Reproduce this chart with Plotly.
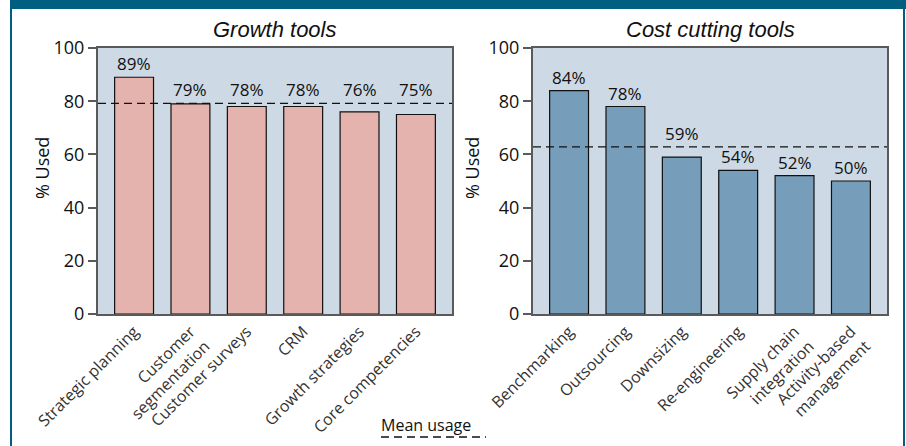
import plotly.graph_objects as go
from plotly.subplots import make_subplots

growth_tools = ["Strategic planning", "Customer<br>segmentation", "Customer surveys", "CRM",
                "Growth strategies", "Core competencies"]
growth_used = [89, 79, 78, 78, 76, 75]
cost_tools = ["Benchmarking", "Outsourcing", "Downsizing", "Re-engineering",
              "Supply chain<br>integration", "Activity-based<br>management"]
cost_used = [84, 78, 59, 54, 52, 50]
y_ticks = [0, 20, 40, 60, 80, 100]
panel_titles = ["Growth tools", "Cost cutting tools"]

growth_mean = sum(growth_used) / len(growth_used)
cost_mean = sum(cost_used) / len(cost_used)

FONT = "Open Sans"
TFONT = "Liberation Sans"
TEAL = "#005f80"
DASH = "8px,5px"
W, H = 906, 446

fig = make_subplots(rows=1, cols=2)

series = [(growth_tools, growth_used, "#e4b3ad", growth_mean),
          (cost_tools, cost_used, "#769dba", cost_mean)]
for i, (cats, vals, col, mean) in enumerate(series):
    fig.add_trace(go.Bar(x=cats, y=vals,
                         marker=dict(color=col, line=dict(color="#111", width=1.2)),
                         showlegend=False, hoverinfo="x+y"), row=1, col=i + 1)
    for c, v in zip(cats, vals):
        # labels that would collide with the mean line are lifted above it
        ly = mean if (mean - 8 < v < mean) else v
        fig.add_annotation(x=c, y=ly, text=f"{v}%", xref=f"x{i + 1 if i else ''}",
                           yref=f"y{i + 1 if i else ''}", showarrow=False,
                           xanchor="center", yanchor="bottom", yshift=0,
                           font=dict(size=17, color="#111", family=FONT))

def px_x(p):
    return p / W

def px_y(p):
    return 1 - p / H

xdoms = [[px_x(98), px_x(452)], [px_x(533), px_x(887)]]
ydom = [px_y(314), px_y(48)]
ytitle_x = [px_x(42), px_x(472)]
PAD = 0.14

for i, (xa, ya) in enumerate([("xaxis", "yaxis"), ("xaxis2", "yaxis2")]):
    n = len(series[i][0])
    fig.layout[xa].update(domain=xdoms[i], tickangle=-45, showline=True, mirror=True,
                          range=[-0.5 - PAD, n - 0.5 + PAD],
                          linecolor="#5a5a5a", linewidth=2, ticks="", automargin=False,
                          tickfont=dict(size=16, color="#333", family=FONT))
    fig.layout[ya].update(domain=ydom, range=[0, 100], tickvals=y_ticks, showgrid=False,
                          zeroline=False, showline=True, mirror=True, linecolor="#5a5a5a",
                          linewidth=2, ticks="outside", ticklen=8, tickcolor="#5a5a5a",
                          tickwidth=1.5, automargin=False,
                          tickfont=dict(size=18, color="#111", family=FONT))
    fig.add_annotation(text="% Used", textangle=-90, xref="paper", yref="paper",
                       x=ytitle_x[i], y=px_y(168), showarrow=False,
                       xanchor="center", yanchor="middle",
                       font=dict(size=18, color="#111", family=FONT))

# mean lines
for i, m in enumerate([growth_mean, cost_mean]):
    xr = "x domain" if i == 0 else "x2 domain"
    yr = "y" if i == 0 else "y2"
    fig.add_shape(type="line", xref=xr, yref=yr, x0=0, x1=1, y0=m, y1=m,
                  line=dict(color="#111", width=1.3, dash=DASH))

# panel titles
for i, t in enumerate(panel_titles):
    fig.add_annotation(text=f"<i>{t}</i>", xref="paper", yref="paper",
                       x=(xdoms[i][0] + xdoms[i][1]) / 2, y=px_y(30), showarrow=False,
                       xanchor="center", yanchor="middle",
                       font=dict(size=22, color="#111", family=TFONT))

# legend
fig.add_annotation(text="Mean usage", xref="paper", yref="paper", x=px_x(379), y=px_y(425),
                   xanchor="left", yanchor="middle", showarrow=False,
                   font=dict(size=16, color="#111", family=FONT))
fig.add_shape(type="line", xref="paper", yref="paper", x0=px_x(381), x1=px_x(486),
              y0=px_y(437), y1=px_y(437), line=dict(color="#111", width=1.3, dash=DASH))

# frame
fig.add_shape(type="rect", xref="paper", yref="paper", x0=px_x(10), x1=1, y0=px_y(9), y1=1,
              line=dict(width=0), fillcolor=TEAL, layer="above")
fig.add_shape(type="rect", xref="paper", yref="paper", x0=px_x(10), x1=px_x(12), y0=0, y1=1,
              line=dict(width=0), fillcolor=TEAL)
fig.add_shape(type="rect", xref="paper", yref="paper", x0=px_x(903), x1=px_x(905), y0=0, y1=1,
              line=dict(width=0), fillcolor=TEAL)

fig.update_layout(width=W, height=H, margin=dict(l=0, r=0, t=0, b=0, autoexpand=False),
                  paper_bgcolor="white", plot_bgcolor="#cdd9e5", bargap=0.31,
                  font=dict(family=FONT, color="#111"))

fig.write_html("out.html")
